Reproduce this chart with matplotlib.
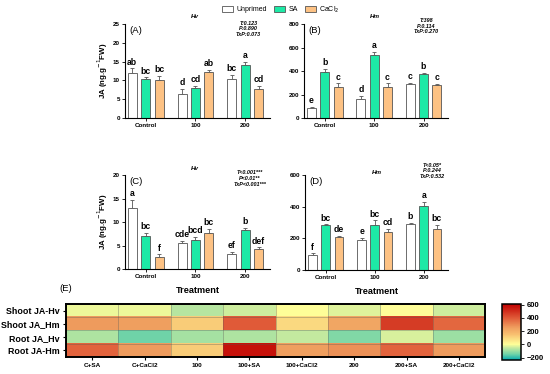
import numpy as np
import matplotlib
matplotlib.use('Agg')
import matplotlib.pyplot as plt
from matplotlib.colors import LinearSegmentedColormap
from matplotlib.patches import Patch

plt.rcParams['font.family'] = ['Liberation Sans', 'DejaVu Sans']

GROUPS = ['Control', '100', '200']
SERIES = ['Unprimed', 'SA', 'CaCl$_2$']

# panel data: means per group (rows) x series (cols), upper error, letters
A_MEAN = [[12.0, 10.3, 10.1], [6.5, 7.9, 12.2], [10.3, 14.0, 7.7]]
A_ERR = [[1.2, 0.5, 1.0], [1.2, 0.7, 0.6], [1.2, 0.9, 0.9]]
A_LET = [['ab', 'bc', 'bc'], ['d', 'cd', 'ab'], ['bc', 'a', 'cd']]

B_MEAN = [[85, 390, 265], [160, 540, 265], [290, 375, 280]]
B_ERR = [[10, 25, 30], [25, 25, 30], [8, 12, 8]]
B_LET = [['e', 'b', 'c'], ['d', 'a', 'c'], ['c', 'b', 'c']]

C_MEAN = [[13.0, 7.0, 2.5], [5.5, 6.2, 7.6], [3.3, 8.3, 4.2]]
C_ERR = [[1.8, 0.7, 0.6], [0.5, 0.7, 1.0], [0.4, 0.4, 0.4]]
C_LET = [['a', 'bc', 'f'], ['cde', 'bcd', 'bc'], ['ef', 'b', 'def']]

D_MEAN = [[95, 285, 207], [187, 283, 240], [290, 405, 258]]
D_ERR = [[10, 3, 10], [15, 30, 18], [8, 25, 28]]
D_LET = [['f', 'bc', 'de'], ['e', 'bc', 'cd'], ['b', 'a', 'bc']]

HEAT_ROWS = ['Shoot JA-Hv', 'Shoot JA_Hm', 'Root JA_Hv', 'Root JA-Hm']
HEAT_COLS = ['C+SA', 'C+CaCl2', '100', '100+SA', '100+CaCl2', '200', '200+SA', '200+CaCl2']
HEAT = [[-15, -15, -70, -45, 0, -30, 5, -45],
        [260, 250, 120, 400, 90, 230, 470, 370],
        [-80, -150, -90, -80, -55, -130, -35, -100],
        [380, 260, 120, 570, 250, 280, 380, 260]]

COLORS = ['white', '#1de9a6', '#fdc284']
EDGE = '#555555'
W, OFF = 0.18, 0.27

fig = plt.figure(figsize=(5.5, 3.74), dpi=100)


def bar_panel(rect, mean, err, lets, ymax, ystep, label, title, stats, tpos, spos, ylabel):
    ax = fig.add_axes(rect)
    mean, err = np.array(mean, float), np.array(err, float)
    x = np.arange(len(GROUPS))
    for j in range(3):
        xs = x + (j - 1) * OFF
        ax.bar(xs, mean[:, j], W, color=COLORS[j], edgecolor=EDGE, lw=0.6, zorder=2)
        ax.errorbar(xs, mean[:, j], yerr=[np.zeros(3), err[:, j]], fmt='none',
                    ecolor=EDGE, elinewidth=0.6, capsize=1.5, capthick=0.6, zorder=1)
        for i in range(3):
            ax.text(xs[i], mean[i, j] + err[i, j] + ymax * 0.02, lets[i][j],
                    ha='center', va='bottom', fontsize=6.2, fontweight='bold')
    ax.set_xlim(-0.42, 2.5)
    ax.set_ylim(0, ymax)
    ax.set_yticks(np.arange(0, ymax + 1e-9, ystep))
    ax.set_xticks(x)
    ax.set_xticklabels(GROUPS)
    for s in ('top', 'right'):
        ax.spines[s].set_visible(False)
    for s in ('left', 'bottom'):
        ax.spines[s].set_linewidth(0.8)
    ax.tick_params(labelsize=4.5, width=0.6, length=2, pad=1.5)
    for t in ax.get_xticklabels() + ax.get_yticklabels():
        t.set_fontweight('bold')
    ax.text(0.03, 0.98, label, transform=ax.transAxes, fontsize=6.8, va='top')
    ax.text(tpos[0], tpos[1], title, transform=ax.transAxes, fontsize=4.5,
            style='italic', fontweight='bold', ha='center', va='center')
    ax.text(spos[0], spos[1], stats, transform=ax.transAxes, fontsize=3.9,
            style='italic', fontweight='bold', ha='center', va='top', linespacing=1.15)
    if ylabel:
        ax.set_ylabel('JA (ng.g$^{-1}$FW)', fontsize=5.7, fontweight='bold', labelpad=2)
    return ax


bar_panel([0.227, 0.6845, 0.264, 0.251], A_MEAN, A_ERR, A_LET, 25, 5, '(A)', 'Hv',
          'T:0.123\nP:0.890\nTxP:0.073', (0.48, 1.085), (0.85, 1.035), True)
bar_panel([0.553, 0.6845, 0.262, 0.251], B_MEAN, B_ERR, B_LET, 800, 200, '(B)', 'Hm',
          'T:398\nP:0.114\nTxP:0.270', (0.49, 1.085), (0.85, 1.065), False)
axc = bar_panel([0.227, 0.2807, 0.264, 0.251], C_MEAN, C_ERR, C_LET, 20, 5, '(C)', 'Hv',
                'T<0.001***\nP<0.01**\nTxP<0.001***', (0.48, 1.075), (0.86, 1.05), True)
axd = bar_panel([0.555, 0.278, 0.26, 0.254], D_MEAN, D_ERR, D_LET, 600, 200, '(D)', 'Hm',
                'T<0.05*\nP:0.244\nTxP:0.532', (0.5, 1.03), (0.89, 1.13), False)
for ax in (axc, axd):
    ax.set_xlabel('Treatment', fontsize=6.6, fontweight='bold', labelpad=5)

fig.legend(handles=[Patch(facecolor=c, edgecolor=EDGE, lw=0.6) for c in COLORS],
           labels=SERIES, loc='upper center', bbox_to_anchor=(0.51, 1.005), ncol=3,
           frameon=False, fontsize=5, handlelength=1.6, handleheight=0.8,
           columnspacing=1.0, handletextpad=0.5)

# heatmap
cmap = LinearSegmentedColormap.from_list('ja', [
    (0.0, '#00a8b0'), (0.106, '#70d4a8'), (0.212, '#c0e8a0'), (0.282, '#ffff99'),
    (0.459, '#f8c070'), (0.576, '#f0a060'), (0.753, '#e05a38'), (1.0, '#c00000')])
axh = fig.add_axes([0.12, 0.0455, 0.762, 0.142])
im = axh.imshow(np.array(HEAT), cmap=cmap, vmin=-240, vmax=610, aspect='auto')
axh.set_xticks(np.arange(len(HEAT_COLS)))
axh.set_xticklabels(HEAT_COLS, fontsize=4.6, fontweight='bold')
axh.set_yticks(np.arange(len(HEAT_ROWS)))
axh.set_yticklabels(HEAT_ROWS, fontsize=6.4, fontweight='bold')
axh.set_xticks(np.arange(-0.5, len(HEAT_COLS)), minor=True)
axh.set_yticks(np.arange(-0.5, len(HEAT_ROWS)), minor=True)
axh.grid(which='minor', color='#555555', lw=0.4, alpha=0.6)
axh.tick_params(which='minor', length=0)
axh.tick_params(which='major', width=0.8, length=2.5, pad=2)
for s in axh.spines.values():
    s.set_linewidth(1.4)
axh.text(-0.015, 1.25, '(E)', transform=axh.transAxes, fontsize=6.8, ha='left')

axcb = fig.add_axes([0.913, 0.037, 0.0345, 0.15])
cb = fig.colorbar(im, cax=axcb, ticks=[-200, 0, 200, 400, 600])
cb.ax.tick_params(labelsize=5.5, width=0.6, length=2, pad=2)
cb.outline.set_linewidth(1.1)
for t in cb.ax.get_yticklabels():
    t.set_fontweight('bold')

fig.savefig('out.png', dpi=100)
